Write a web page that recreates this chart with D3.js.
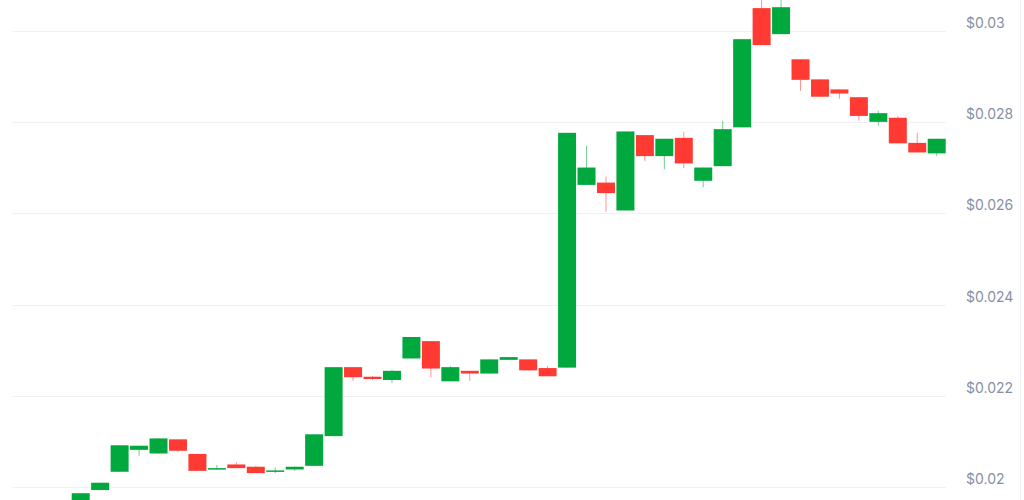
<!DOCTYPE html>
<html>
<head>
<meta charset="utf-8">
<script src="https://cdn.jsdelivr.net/npm/d3@7"></script>
<style>
  html, body { margin: 0; padding: 0; background: #fff; }
  svg { display: block; }
</style>
</head>
<body>
<div id="chart"></div>
<script>
// ---- data ----
const periods = d3.range(1, 46).map(i => "P" + i);
const opens  = [0.01970,0.01994,0.02034,0.02082,0.02074,0.02105,0.02073,0.02039,0.02050,0.02045,
                0.02034,0.02039,0.02047,0.02112,0.02263,0.02242,0.02235,0.02282,0.02320,0.02232,
                0.02255,0.02249,0.02279,0.02280,0.02261,0.02262,0.02662,0.02667,0.02606,0.02771,
                0.02725,0.02765,0.02671,0.02703,0.02788,0.03049,0.02992,0.02937,0.02893,0.02871,
                0.02854,0.02800,0.02809,0.02754,0.02731];
const highs  = [0.01987,0.02010,0.02092,0.02091,0.02107,0.02105,0.02073,0.02049,0.02055,0.02047,
                0.02043,0.02045,0.02116,0.02263,0.02263,0.02244,0.02257,0.02329,0.02320,0.02266,
                0.02255,0.02280,0.02285,0.02280,0.02266,0.02776,0.02748,0.02680,0.02779,0.02771,
                0.02763,0.02778,0.02700,0.02802,0.02981,0.03075,0.03075,0.02937,0.02893,0.02871,
                0.02854,0.02824,0.02813,0.02776,0.02763];
const lows   = [0.01960,0.01994,0.02034,0.02069,0.02074,0.02077,0.02036,0.02039,0.02042,0.02031,
                0.02031,0.02036,0.02047,0.02112,0.02233,0.02235,0.02228,0.02282,0.02241,0.02232,
                0.02233,0.02249,0.02279,0.02255,0.02243,0.02262,0.02662,0.02603,0.02606,0.02714,
                0.02696,0.02699,0.02657,0.02703,0.02788,0.02968,0.02992,0.02868,0.02855,0.02851,
                0.02803,0.02792,0.02753,0.02733,0.02725];
const closes = [0.01987,0.02010,0.02092,0.02091,0.02107,0.02080,0.02036,0.02042,0.02042,0.02031,
                0.02037,0.02045,0.02116,0.02263,0.02241,0.02237,0.02255,0.02329,0.02260,0.02263,
                0.02249,0.02280,0.02285,0.02256,0.02243,0.02776,0.02700,0.02644,0.02779,0.02725,
                0.02763,0.02709,0.02700,0.02784,0.02981,0.02968,0.03051,0.02892,0.02855,0.02862,
                0.02813,0.02819,0.02753,0.02733,0.02763];
const yTicks = [0.020, 0.022, 0.024, 0.026, 0.028, 0.030];
const yTickLabels = ["$0.02", "$0.022", "$0.024", "$0.026", "$0.028", "$0.03"];

const W = 1024, H = 500;
const upColor = "#00a83e", downColor = "#ff3a33";

const candles = periods.map((p, i) => ({
  p, o: opens[i], h: highs[i], l: lows[i], c: closes[i]
}));

const svg = d3.select("#chart").append("svg")
  .attr("width", W).attr("height", H);

const x = d3.scaleBand().domain(periods).range([71.7, 945.7]).paddingInner(0.075).paddingOuter(0);
const y = d3.scaleLinear().domain([0.020, 0.030]).range([487.3, 30.5]);

// right border line
svg.append("line")
  .attr("x1", 1020.5).attr("x2", 1020.5).attr("y1", 0).attr("y2", H)
  .attr("stroke", "#eef0f3").attr("stroke-width", 1);

// gridlines
const yAxis = d3.axisRight(y)
  .tickValues(yTicks)
  .tickSize(0)
  .tickFormat((d, i) => yTickLabels[i]);

svg.append("g").attr("class", "grid")
  .selectAll("line").data(yTicks).join("line")
  .attr("x1", 12).attr("x2", 946)
  .attr("y1", d => Math.round(y(d)) + 0.5)
  .attr("y2", d => Math.round(y(d)) + 0.5)
  .attr("stroke", "#f0f1f3").attr("stroke-width", 1);

const axisG = svg.append("g").attr("transform", "translate(966,0)").call(yAxis);
axisG.select(".domain").remove();
axisG.selectAll("text")
  .attr("x", 0).attr("dy", -3.5)
  .attr("text-anchor", "start")
  .attr("font-family", "Inter, 'Noto Sans', sans-serif")
  .attr("font-size", 14)
  .attr("fill", "#8590a4");
axisG.selectAll("text").attr("dominant-baseline", "auto");

// candles
const g = svg.append("g");
const bw = x.bandwidth();
g.selectAll("line.wick").data(candles).join("line")
  .attr("class", "wick")
  .attr("x1", d => x(d.p) + bw / 2).attr("x2", d => x(d.p) + bw / 2)
  .attr("y1", d => y(d.h)).attr("y2", d => y(d.l))
  .attr("stroke", d => d.c >= d.o ? upColor : downColor)
  .attr("stroke-opacity", 0.55)
  .attr("stroke-width", 1);

g.selectAll("rect.body").data(candles).join("rect")
  .attr("class", "body")
  .attr("x", d => x(d.p)).attr("width", bw)
  .attr("y", d => y(Math.max(d.o, d.c)))
  .attr("height", d => Math.max(1.5, Math.abs(y(d.o) - y(d.c))))
  .attr("fill", d => d.c >= d.o ? upColor : downColor);
</script>
</body>
</html>
